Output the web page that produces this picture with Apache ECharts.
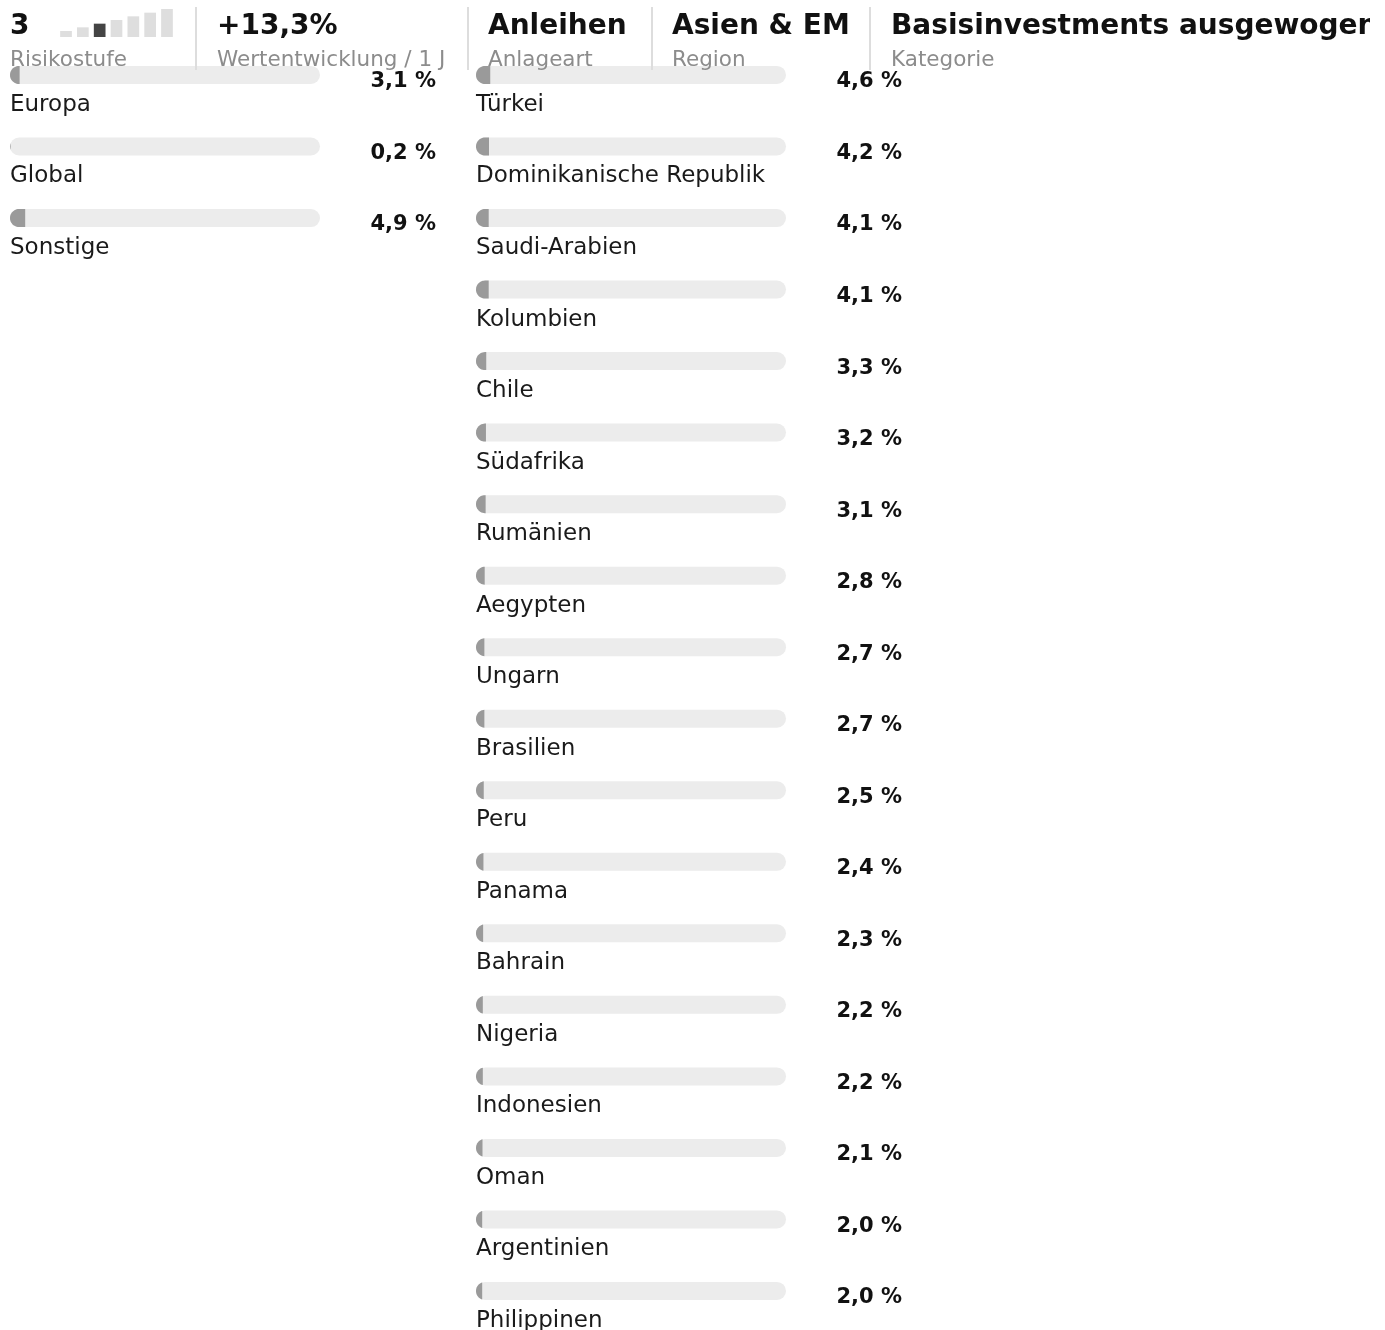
<!DOCTYPE html>
<html>
<head>
<meta charset="utf-8">
<script src="https://cdn.jsdelivr.net/npm/echarts@6/dist/echarts.min.js"></script>
<style>
  html, body { margin: 0; padding: 0; background: #fff; }
  #chart { width: 1385px; height: 1330px; }
</style>
</head>
<body>
<div id="chart"></div>
<script>
// Data
const leftNames = ['Europa', 'Global', 'Sonstige'];
const leftValues = [3.1, 0.2, 4.9];

const rightNames = [
  'Türkei', 'Dominikanische Republik', 'Saudi-Arabien', 'Kolumbien', 'Chile',
  'Südafrika', 'Rumänien', 'Aegypten', 'Ungarn', 'Brasilien', 'Peru', 'Panama',
  'Bahrain', 'Nigeria', 'Indonesien', 'Oman', 'Argentinien', 'Philippinen'
];
const rightValues = [4.6, 4.2, 4.1, 4.1, 3.3, 3.2, 3.1, 2.8, 2.7, 2.7, 2.5, 2.4, 2.3, 2.2, 2.2, 2.1, 2.0, 2.0];

const riskSteps = [1, 2, 3, 4, 5, 6, 7];
const riskLevel = 3;

const headerValues = ['3', '+13,3%', 'Anleihen', 'Asien & EM', 'Basisinvestments ausgewogen'];
const headerLabels = ['Risikostufe', 'Wertentwicklung / 1 J', 'Anlageart', 'Region', 'Kategorie'];

// Layout
const FONT = '"DejaVu Sans", sans-serif';
const ROW = 71.53;
const TOP = 39.2;
const BAR_H = 18;
const RISK_MIN = -0.636;
const headerX = [10, 217, 488, 672, 891];
const separatorX = [196, 468, 652, 870];

const fmt = v => v.toFixed(1).replace('.', ',') + ' %';

const chart = echarts.init(document.getElementById('chart'));

// fill = track's rounded rect clipped at the value
const renderFill = (params, api) => {
  const v = api.value(0);
  const idx = api.value(1);
  const start = api.coord([0, idx]);
  const end = api.coord([v, idx]);
  const full = api.coord([100, idx]);
  const r = BAR_H / 2;
  const w = end[0] - start[0];
  const cx = start[0] + r;
  const cy = start[1];
  const points = [];
  if (w >= r) {
    for (let k = 0; k <= 24; k++) {
      const t = Math.PI / 2 + Math.PI * k / 24;
      points.push([cx + r * Math.cos(t), cy + r * Math.sin(t)]);
    }
    points.push([start[0] + w, cy - r], [start[0] + w, cy + r]);
  } else if (w > 0) {
    const a = Math.acos((r - w) / r);
    for (let k = 0; k <= 24; k++) {
      const t = Math.PI - a + 2 * a * k / 24;
      points.push([cx + r * Math.cos(t), cy + r * Math.sin(t)]);
    }
  }
  return {
    type: 'group',
    children: [
      { type: 'polygon', shape: { points: points }, style: { fill: '#9a9a9a' } },
      {
        type: 'text',
        x: full[0] + 116,
        y: cy + 7,
        style: {
          text: fmt(v), align: 'right', verticalAlign: 'middle',
          font: 'bold 21px ' + FONT, fill: '#111'
        }
      }
    ]
  };
};

// risk steps grow from the bottom of the little grid
const renderRisk = (params, api) => {
  const idx = api.value(0);
  const top = api.coord([idx, api.value(1)]);
  const bottom = api.coord([idx, RISK_MIN]);
  const w = 11.7;
  return {
    type: 'rect',
    shape: { x: top[0] - w / 2, y: top[1], width: w, height: bottom[1] - top[1] },
    style: { fill: api.value(1) === riskLevel ? '#444' : '#dedede' }
  };
};

const listSeries = (names, values, k) => [
  {
    type: 'bar',
    xAxisIndex: k,
    yAxisIndex: k,
    data: names.map(() => 100),
    barWidth: BAR_H,
    itemStyle: { color: '#ececec', borderRadius: 9 },
    label: {
      show: true,
      position: [0, 39],
      formatter: p => p.name,
      align: 'left',
      verticalAlign: 'middle',
      fontFamily: 'DejaVu Sans',
      fontSize: 23,
      color: '#1a1a1a'
    },
    silent: true
  },
  {
    type: 'custom',
    xAxisIndex: k,
    yAxisIndex: k,
    data: values.map((v, i) => [v, i]),
    encode: { x: 0, y: 1 },
    renderItem: renderFill,
    z: 3,
    silent: true
  }
];

const option = {
  backgroundColor: '#fff',
  animation: false,
  grid: [
    { left: 10, width: 310, top: TOP, height: ROW * leftNames.length },
    { left: 476, width: 310, top: TOP, height: ROW * rightNames.length },
    { left: 57.6, width: 117.8, top: 9, height: 28 }
  ],
  xAxis: [
    { gridIndex: 0, type: 'value', min: 0, max: 100, show: false },
    { gridIndex: 1, type: 'value', min: 0, max: 100, show: false },
    { gridIndex: 2, type: 'category', data: riskSteps, show: false }
  ],
  yAxis: [
    { gridIndex: 0, type: 'category', data: leftNames, inverse: true, show: false },
    { gridIndex: 1, type: 'category', data: rightNames, inverse: true, show: false },
    { gridIndex: 2, type: 'value', min: RISK_MIN, max: 7, show: false }
  ],
  series: [
    ...listSeries(leftNames, leftValues, 0),
    ...listSeries(rightNames, rightValues, 1),
    {
      type: 'custom',
      xAxisIndex: 2,
      yAxisIndex: 2,
      silent: true,
      data: riskSteps.map((s, i) => [i, s]),
      encode: { x: 0, y: 1 },
      renderItem: renderRisk
    }
  ],
  graphic: [
    ...headerValues.map((t, i) => ({
      type: 'text', x: headerX[i], y: 26.5, z: 10,
      style: { text: t, font: 'bold 28px ' + FONT, fill: '#111', verticalAlign: 'middle' }
    })),
    ...headerLabels.map((t, i) => ({
      type: 'text', x: headerX[i], y: 60, z: 10,
      style: { text: t, font: '21.5px ' + FONT, fill: '#8c8c8c', verticalAlign: 'middle' }
    })),
    ...separatorX.map(x => ({
      type: 'line', z: 10,
      shape: { x1: x, y1: 7, x2: x, y2: 70 },
      style: { stroke: '#dddddd', lineWidth: 2 }
    })),
    // page clips the long category name
    { type: 'rect', z: 20, shape: { x: 1370, y: 0, width: 15, height: 50 }, style: { fill: '#fff' } }
  ]
};

chart.setOption(option);
</script>
</body>
</html>
